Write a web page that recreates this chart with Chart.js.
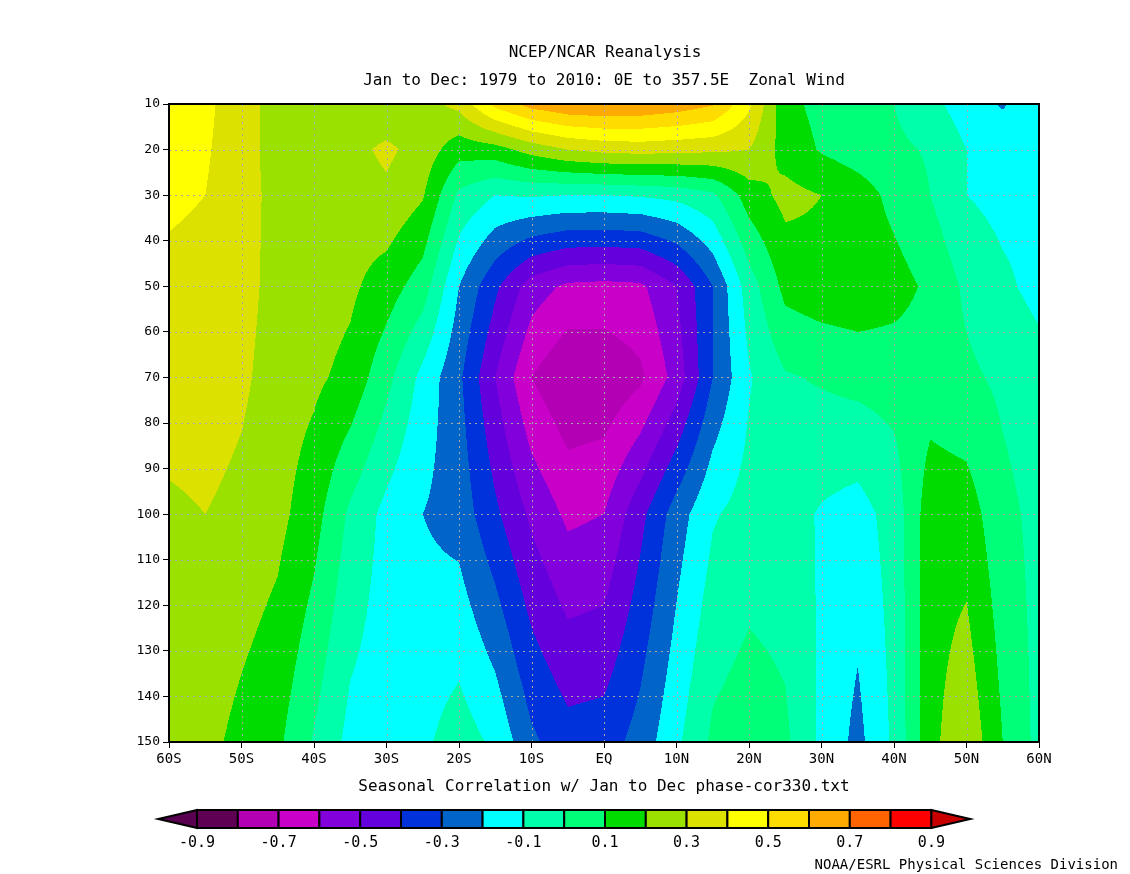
<!DOCTYPE html>
<html>
<head>
<meta charset="utf-8">
<title>NCEP/NCAR Reanalysis - Zonal Wind seasonal correlation</title>
<script src="https://cdn.jsdelivr.net/npm/chart.js@4.4.1/dist/chart.umd.min.js"></script>
<style>
  html, body { margin: 0; padding: 0; background: #fff; }
  #wrap { width: 1130px; height: 874px; }
</style>
</head>
<body>
<div id="wrap"><canvas id="chart" width="1130" height="874"></canvas></div>
<script>
/* ---------- Data ---------- */

// latitude columns, 60S..60N every 5 degrees
const LATS = [-60, -55, -50, -45, -40, -35, -30, -25, -20, -15, -10, -5, 0,
  5, 10, 15, 20, 25, 30, 35, 40, 45, 50, 55, 60];

// pressure levels (hPa) carrying data
const LEVELS = [10, 20, 30, 50, 70, 100, 150];

// correlation at each level, one value per latitude column
const COR_10 = [0.45, 0.42, 0.35, 0.25, 0.25, 0.26, 0.22, 0.26, 0.33, 0.53, 0.64, 0.69, 0.70,
  0.69, 0.66, 0.61, 0.42, 0.13, 0.07, 0.04, 0.00, -0.07, -0.15, -0.21, -0.13];
const COR_20 = [0.45, 0.41, 0.35, 0.25, 0.26, 0.27, 0.32, 0.26, 0.14, 0.16, 0.24, 0.30, 0.33,
  0.34, 0.33, 0.32, 0.30, 0.16, 0.09, 0.05, 0.02, -0.01, -0.10, -0.13, -0.13];
const COR_30 = [0.42, 0.40, 0.35, 0.26, 0.25, 0.25, 0.28, 0.21, -0.02, -0.10, -0.09, -0.10, -0.10,
  -0.09, -0.07, -0.02, 0.15, 0.23, 0.20, 0.15, 0.07, 0.00, -0.10, -0.13, -0.13];
const COR_50 = [0.37, 0.36, 0.34, 0.26, 0.25, 0.22, 0.15, 0.05, -0.20, -0.38, -0.55, -0.62, -0.63,
  -0.62, -0.50, -0.30, -0.05, 0.13, 0.16, 0.17, 0.14, 0.08, -0.02, -0.08, -0.13];
const COR_70 = [0.36, 0.36, 0.32, 0.25, 0.22, 0.17, 0.03, -0.13, -0.28, -0.50, -0.70, -0.79, -0.78,
  -0.72, -0.56, -0.30, -0.11, -0.01, 0.01, 0.03, 0.04, 0.05, 0.02, -0.02, -0.06];
const COR_100 = [0.28, 0.30, 0.27, 0.23, 0.14, -0.02, -0.13, -0.20, -0.24, -0.38, -0.52, -0.62, -0.60,
  -0.43, -0.25, -0.11, -0.06, -0.06, -0.11, -0.14, -0.06, 0.16, 0.15, 0.03, -0.03];
const COR_150 = [0.25, 0.23, 0.17, 0.12, -0.01, -0.13, -0.15, -0.12, -0.05, -0.12, -0.28, -0.36, -0.35,
  -0.26, -0.12, 0.02, 0.06, 0.02, -0.12, -0.23, -0.08, 0.17, 0.28, 0.10, -0.03];

const ROWS = [COR_10, COR_20, COR_30, COR_50, COR_70, COR_100, COR_150];

// shading intervals and their colours (one more colour than levels)
const CONTOUR_LEVELS = [-0.9, -0.8, -0.7, -0.6, -0.5, -0.4, -0.3, -0.2, -0.1, 0,
  0.1, 0.2, 0.3, 0.4, 0.5, 0.6, 0.7, 0.8, 0.9];
const SHADES = ['#5a0050', '#5f0055', '#b400b4', '#c800c8', '#8200dc', '#6400dc', '#0032dc',
  '#0064c8', '#00ffff', '#00ffaa', '#00ff78', '#00dc00', '#9be100', '#dce100', '#ffff00',
  '#ffdc00', '#ffaa00', '#ff6400', '#ff0000', '#c80000'];
const BAR_LABELS = ['-0.9', '-0.7', '-0.5', '-0.3', '-0.1', '0.1', '0.3', '0.5', '0.7', '0.9'];

// axis ticks
const X_TICKS = [-60, -50, -40, -30, -20, -10, 0, 10, 20, 30, 40, 50, 60];
const Y_TICKS = [10, 20, 30, 40, 50, 60, 70, 80, 90, 100, 110, 120, 130, 140, 150];

const TITLE_LINES = ['NCEP/NCAR Reanalysis', 'Jan to Dec: 1979 to 2010: 0E to 357.5E  Zonal Wind'];
const X_TITLE = 'Seasonal Correlation w/ Jan to Dec phase-cor330.txt';
const CREDIT = 'NOAA/ESRL Physical Sciences Division';

const FONT = "'DejaVu Sans Mono', monospace";

/* ---------- helpers ---------- */

function hexToRgb(h) {
  const n = parseInt(h.slice(1), 16);
  return [(n >> 16) & 255, (n >> 8) & 255, n & 255];
}

function clamp01(v) {
  return v < 0 ? 0 : v > 1 ? 1 : v;
}

function latLabel(v) {
  if (v === 0) return 'EQ';
  return v < 0 ? (-v) + 'S' : v + 'N';
}

/* ---------- Plugin: shaded contours (bilinear between grid nodes) ---------- */

const contourFill = {
  id: 'contourFill',
  beforeDatasetsDraw(chart) {
    const { ctx, chartArea: a, scales: { x, y } } = chart;
    const left = Math.round(a.left), top = Math.round(a.top);
    const w = Math.round(a.right) - left, h = Math.round(a.bottom) - top;
    const img = ctx.createImageData(w, h);
    const rgb = SHADES.map(hexToRgb);

    const colI = new Int32Array(w), colT = new Float32Array(w);
    for (let px = 0; px < w; px++) {
      const lat = x.getValueForPixel(left + px + 0.5);
      let i = 0;
      while (i < LATS.length - 2 && lat > LATS[i + 1]) i++;
      colI[px] = i;
      colT[px] = clamp01((lat - LATS[i]) / (LATS[i + 1] - LATS[i]));
    }

    for (let py = 0; py < h; py++) {
      const lev = y.getValueForPixel(top + py + 0.5);
      let j = 0;
      while (j < LEVELS.length - 2 && lev > LEVELS[j + 1]) j++;
      const u = clamp01((lev - LEVELS[j]) / (LEVELS[j + 1] - LEVELS[j]));
      const r0 = ROWS[j], r1 = ROWS[j + 1];
      for (let px = 0; px < w; px++) {
        const i = colI[px], t = colT[px];
        const v = (1 - u) * ((1 - t) * r0[i] + t * r0[i + 1]) +
                  u * ((1 - t) * r1[i] + t * r1[i + 1]);
        let k = 0;
        while (k < CONTOUR_LEVELS.length && v >= CONTOUR_LEVELS[k] - 1e-9) k++;
        const c = rgb[k];
        const o = (py * w + px) * 4;
        img.data[o] = c[0];
        img.data[o + 1] = c[1];
        img.data[o + 2] = c[2];
        img.data[o + 3] = 255;
      }
    }
    ctx.putImageData(img, left, top);
  }
};

/* ---------- Plugin: dotted grid + frame ---------- */

const gridFrame = {
  id: 'gridFrame',
  afterDatasetsDraw(chart) {
    const { ctx, chartArea: a, scales: { x, y } } = chart;
    ctx.save();
    ctx.strokeStyle = '#a8a8a8';
    ctx.lineWidth = 1;
    ctx.setLineDash([2, 4]);
    ctx.beginPath();
    X_TICKS.forEach((v) => {
      if (v <= x.min || v >= x.max) return;
      const px = Math.round(x.getPixelForValue(v)) + 0.5;
      ctx.moveTo(px, a.top);
      ctx.lineTo(px, a.bottom);
    });
    Y_TICKS.forEach((v) => {
      if (v <= y.min || v >= y.max) return;
      const py = Math.round(y.getPixelForValue(v)) + 0.5;
      ctx.moveTo(a.left, py);
      ctx.lineTo(a.right, py);
    });
    ctx.stroke();
    ctx.setLineDash([]);
    ctx.strokeStyle = '#000';
    ctx.lineWidth = 2;
    ctx.strokeRect(a.left, a.top, a.right - a.left, a.bottom - a.top);
    ctx.restore();
  }
};

/* ---------- Plugin: titles, colour bar, credit ---------- */

const annotations = {
  id: 'annotations',
  afterDraw(chart) {
    const { ctx, chartArea: a } = chart;
    const cx = (a.left + a.right) / 2;
    ctx.save();
    ctx.fillStyle = '#000';
    ctx.textAlign = 'center';
    ctx.textBaseline = 'middle';
    ctx.font = '16px ' + FONT;
    ctx.fillText(TITLE_LINES[0], cx + 1, 53);
    ctx.fillText(TITLE_LINES[1], cx, 81);

    // colour bar
    const barLeft = 197, step = 40.8, barTop = 810, barBot = 828;
    const mid = (barTop + barBot) / 2;
    const n = CONTOUR_LEVELS.length;           // 19 edges -> 18 boxes
    const xAt = (k) => barLeft + k * step;
    ctx.lineWidth = 2;
    ctx.strokeStyle = '#000';
    for (let k = 0; k < n - 1; k++) {
      ctx.fillStyle = SHADES[k + 1];
      ctx.fillRect(xAt(k), barTop, step, barBot - barTop);
      ctx.strokeRect(xAt(k), barTop, step, barBot - barTop);
    }
    // end triangles
    [[xAt(0), xAt(0) - step + 2, SHADES[0]], [xAt(n - 1), xAt(n - 1) + step - 2, SHADES[SHADES.length - 1]]]
      .forEach(([base, tip, col]) => {
        ctx.beginPath();
        ctx.moveTo(base, barTop);
        ctx.lineTo(tip, mid);
        ctx.lineTo(base, barBot);
        ctx.closePath();
        ctx.fillStyle = col;
        ctx.fill();
        ctx.stroke();
      });

    ctx.fillStyle = '#000';
    ctx.font = '15px ' + FONT;
    BAR_LABELS.forEach((lab, i) => {
      ctx.fillText(lab, xAt(i * 2), 843);
    });

    ctx.textAlign = 'right';
    ctx.font = '14px ' + FONT;
    ctx.fillText(CREDIT, 1118, 865);
    ctx.restore();
  }
};

/* ---------- Chart ---------- */

const gridPoints = [];
LEVELS.forEach((lev, j) => {
  LATS.forEach((lat, i) => gridPoints.push({ x: lat, y: lev, v: ROWS[j][i] }));
});

new Chart(document.getElementById('chart'), {
  type: 'scatter',
  data: {
    datasets: [{
      label: 'Correlation grid',
      data: gridPoints,
      pointRadius: 0,
      pointHoverRadius: 0,
      showLine: false
    }]
  },
  options: {
    responsive: false,
    devicePixelRatio: 1,
    animation: false,
    events: [],
    layout: { padding: { top: 104, right: 91, bottom: 0, left: 0 } },
    plugins: {
      legend: { display: false },
      tooltip: { enabled: false },
      title: { display: false }
    },
    scales: {
      x: {
        type: 'linear',
        min: -60,
        max: 60,
        afterFit: (s) => { s.height = 132; },
        afterBuildTicks: (s) => { s.ticks = X_TICKS.map((v) => ({ value: v })); },
        ticks: {
          color: '#000',
          font: { family: FONT, size: 14 },
          padding: 3,
          maxRotation: 0,
          autoSkip: false,
          callback: (v) => latLabel(v)
        },
        grid: { drawOnChartArea: false, drawTicks: true, tickLength: 6, color: '#000', lineWidth: 1 },
        border: { display: false },
        title: {
          display: true,
          text: X_TITLE,
          color: '#000',
          font: { family: FONT, size: 16 },
          padding: { top: 4, bottom: 78 }
        }
      },
      y: {
        type: 'linear',
        reverse: true,
        min: 10,
        max: 150,
        afterFit: (s) => { s.width = 169; },
        afterBuildTicks: (s) => { s.ticks = Y_TICKS.map((v) => ({ value: v })); },
        ticks: {
          color: '#000',
          font: { family: FONT, size: 13 },
          padding: 3,
          autoSkip: false
        },
        grid: { drawOnChartArea: false, drawTicks: true, tickLength: 6, color: '#000', lineWidth: 1 },
        border: { display: false }
      }
    }
  },
  plugins: [contourFill, gridFrame, annotations]
});
</script>
</body>
</html>
